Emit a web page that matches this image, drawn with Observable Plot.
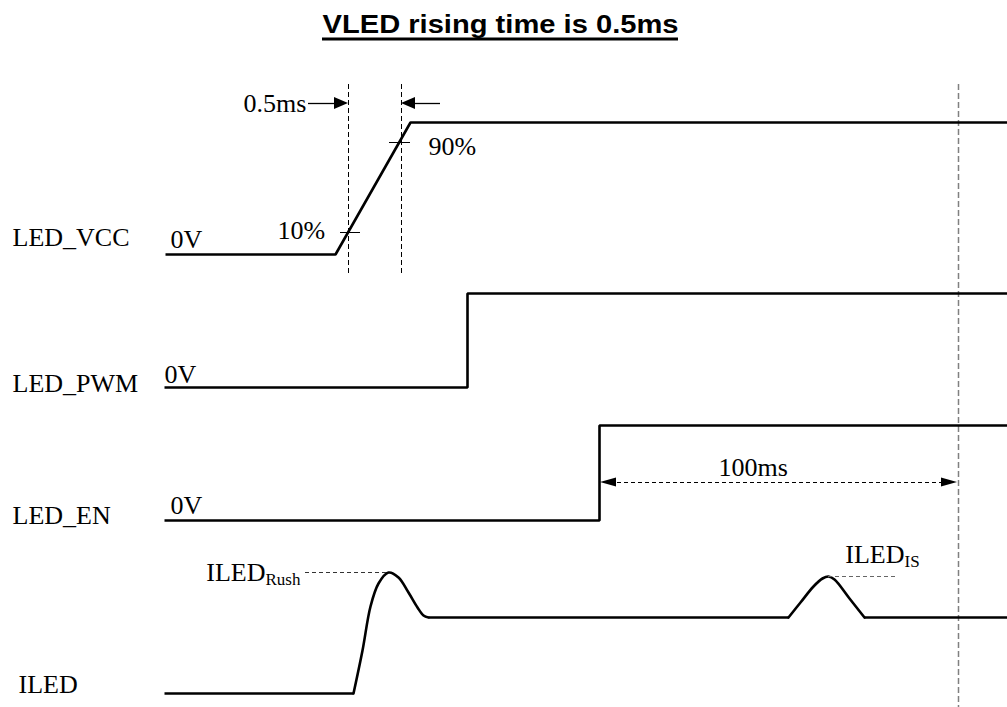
<!DOCTYPE html>
<html><head><meta charset="utf-8">
<script src="https://cdn.jsdelivr.net/npm/d3@7"></script>
<script src="https://cdn.jsdelivr.net/npm/@observablehq/plot@0.6"></script>
<style>html,body{margin:0;padding:0;background:#fff;}</style>
</head><body><div id="chart"></div>
<script>
// ---- data (diagram units) ----
const titleText = "VLED rising time is 0.5ms";
const signalNames = ["LED_VCC", "LED_PWM", "LED_EN", "ILED"];
const signalLabelX = [12, 12, 12, 18];
const signalLabelY = [245, 391, 523, 692];
const zeroLabels = ["0V", "0V", "0V"];
const zeroLabelX = [170, 164, 170];
const zeroLabelY = [247, 382, 513];

// digital waveforms: [time, level]
const vccWave = [[165, 254], [335, 254], [410, 122], [1007, 122]];
const pwmWave = [[164, 387], [467, 387], [467, 293], [1007, 293]];
const enWave  = [[164, 520], [599, 520], [599, 425], [1007, 425]];

// ILED current waveform segments
const iledFlat1 = [[164, 693], [353, 693]];
const iledRush  = [[353, 693], [362, 650], [370, 606], [378, 583], [388, 572], [398, 577], [408, 592], [417, 607], [423, 615], [428, 617]];
const iledFlat2 = [[428, 617], [788, 617]];
const iledIS    = [[788, 617], [800, 602], [813, 586], [822, 578], [828, 576], [834, 579], [849, 598], [864, 617]];
const iledFlat3 = [[864, 617], [1007, 617]];

// rise-time markers
const riseGuideX = [348, 401];
const riseGuideTop = 84, riseGuideBottom = 274;
const pctLabels = ["10%", "90%"];
const pctLabelX = [277, 428];
const pctLabelY = [238, 154];
const pctTickY = [232, 142];
const pctTickX1 = [340, 389];
const pctTickX2 = [360, 410];

// timing markers
const endGuideX = 958;
const dimLabels = ["0.5ms", "100ms"];
const dimLabelX = [243, 718];
const dimLabelY = [111, 475];
const arrowHeads = [
  {id: "a1", tip: 348, base: 334, y: 103, half: 6},
  {id: "a2", tip: 401, base: 415, y: 103, half: 6},
  {id: "a3", tip: 600, base: 616, y: 482, half: 4.5},
  {id: "a4", tip: 957, base: 941, y: 482, half: 4.5}
];
const arrowShafts = [
  {x1: 308, x2: 336, y: 103, dash: null},
  {x1: 413, x2: 440, y: 103, dash: null},
  {x1: 610, x2: 948, y: 482, dash: "4,3"}
];
const peakMarks = [
  {x1: 305, x2: 386, y: 572, color: "#333"},
  {x1: 828, x2: 897, y: 576, color: "#666"}
];
const peakMain = ["ILED", "ILED"];
const peakSub = ["Rush", "IS"];
const peakX = [265, 904];
const peakY = [580, 562];

// ---- build tables ----
const toRows = (pts, z) => pts.map(([x, y]) => ({x, y, z}));
const stepRows = [...toRows(vccWave, "vcc"), ...toRows(pwmWave, "pwm"), ...toRows(enWave, "en"),
  ...toRows(iledFlat1, "f1"), ...toRows(iledFlat2, "f2"), ...toRows(iledFlat3, "f3")];
const smoothRows = [...toRows(iledRush, "rush"), ...toRows(iledIS, "is")];
const triRows = arrowHeads.flatMap(a => [
  {z: a.id, x: a.base, y1: a.y - a.half, y2: a.y + a.half},
  {z: a.id, x: a.tip, y1: a.y, y2: a.y}
]);
const serif = "Liberation Serif, Times New Roman, serif";
const sigLabels = signalNames.map((t, i) => ({t, x: signalLabelX[i], y: signalLabelY[i]}));
const zeroRows = zeroLabels.map((t, i) => ({t, x: zeroLabelX[i], y: zeroLabelY[i]}));
const pctRows = pctLabels.map((t, i) => ({t, x: pctLabelX[i], y: pctLabelY[i], ty: pctTickY[i], x1: pctTickX1[i], x2: pctTickX2[i]}));
const dimRows = dimLabels.map((t, i) => ({t, x: dimLabelX[i], y: dimLabelY[i]}));
const peakRows = peakMain.map((t, i) => ({t, s: peakSub[i], x: peakX[i], y: peakY[i]}));

const plot = Plot.plot({
  width: 1007, height: 707,
  margin: 0,
  x: {domain: [0, 1007], range: [0, 1007], axis: null},
  y: {domain: [0, 707], range: [0, 707], axis: null},
  style: {background: "#fff"},
  marks: [
    // title
    Plot.text([{t: titleText, x: 500, y: 32}], {x: "x", y: "y", text: "t", fontFamily: "Liberation Sans, Arial, sans-serif", fontWeight: "bold", fontSize: 26, lineAnchor: "bottom", textAnchor: "middle", fill: "#000", className: "ttl"}),
    Plot.ruleY([{y: 38.5, x1: 322, x2: 678}], {y: "y", x1: "x1", x2: "x2", stroke: "#000", strokeWidth: 3}),
    // guides
    Plot.ruleX(riseGuideX.map(x => ({x})), {x: "x", y1: () => riseGuideTop, y2: () => riseGuideBottom, stroke: "#000", strokeWidth: 1, strokeDasharray: "5,3"}),
    Plot.ruleX([{x: endGuideX, y1: 84, y2: 707}], {x: "x", y1: "y1", y2: "y2", stroke: "#808080", strokeWidth: 1.5, strokeDasharray: "6,3"}),
    // waveforms
    Plot.line(stepRows, {x: "x", y: "y", z: "z", stroke: "#000", strokeWidth: 2.6, strokeLinejoin: "miter", strokeLinecap: "butt"}),
    Plot.line(smoothRows, {x: "x", y: "y", z: "z", stroke: "#000", strokeWidth: 2.6, curve: "catmull-rom"}),
    // % ticks
    Plot.ruleY(pctRows, {y: "ty", x1: "x1", x2: "x2", stroke: "#000", strokeWidth: 1}),
    // arrows
    Plot.ruleY(arrowShafts.filter(d => !d.dash), {y: "y", x1: "x1", x2: "x2", stroke: "#000", strokeWidth: 1.3}),
    Plot.ruleY(arrowShafts.filter(d => d.dash), {y: "y", x1: "x1", x2: "x2", stroke: "#000", strokeWidth: 1, strokeDasharray: "4,3"}),
    Plot.areaY(triRows, {x: "x", y1: "y1", y2: "y2", z: "z", fill: "#000", curve: "linear"}),
    // peak dashed marks
    Plot.ruleY(peakMarks, {y: "y", x1: "x1", x2: "x2", stroke: "color", strokeWidth: 1, strokeDasharray: "4,3"}),
    // labels
    Plot.text(sigLabels, {x: "x", y: "y", text: "t", textAnchor: "start", lineAnchor: "bottom", fontFamily: serif, fontSize: 26, fill: "#000"}),
    Plot.text(zeroRows, {x: "x", y: "y", text: "t", textAnchor: "start", lineAnchor: "bottom", fontFamily: serif, fontSize: 26, fill: "#000"}),
    Plot.text(pctRows, {x: "x", y: "y", text: "t", textAnchor: "start", lineAnchor: "bottom", fontFamily: serif, fontSize: 26, fill: "#000"}),
    Plot.text(dimRows, {x: "x", y: "y", text: "t", textAnchor: "start", lineAnchor: "bottom", fontFamily: serif, fontSize: 26, fill: "#000"}),
    Plot.text(peakRows, {x: "x", y: "y", text: "t", textAnchor: "end", lineAnchor: "bottom", fontFamily: serif, fontSize: 26, fill: "#000"}),
    Plot.text(peakRows, {x: "x", y: d => d.y + 4, text: "s", textAnchor: "start", lineAnchor: "bottom", fontFamily: serif, fontSize: 17, fill: "#000"})
  ]
});
document.getElementById("chart").appendChild(plot);
// stretch the title to the reference's width
plot.querySelectorAll("g.ttl text, .ttl text").forEach(t => {
  t.setAttribute("textLength", "356");
  t.setAttribute("lengthAdjust", "spacingAndGlyphs");
});
</script>
</body></html>
